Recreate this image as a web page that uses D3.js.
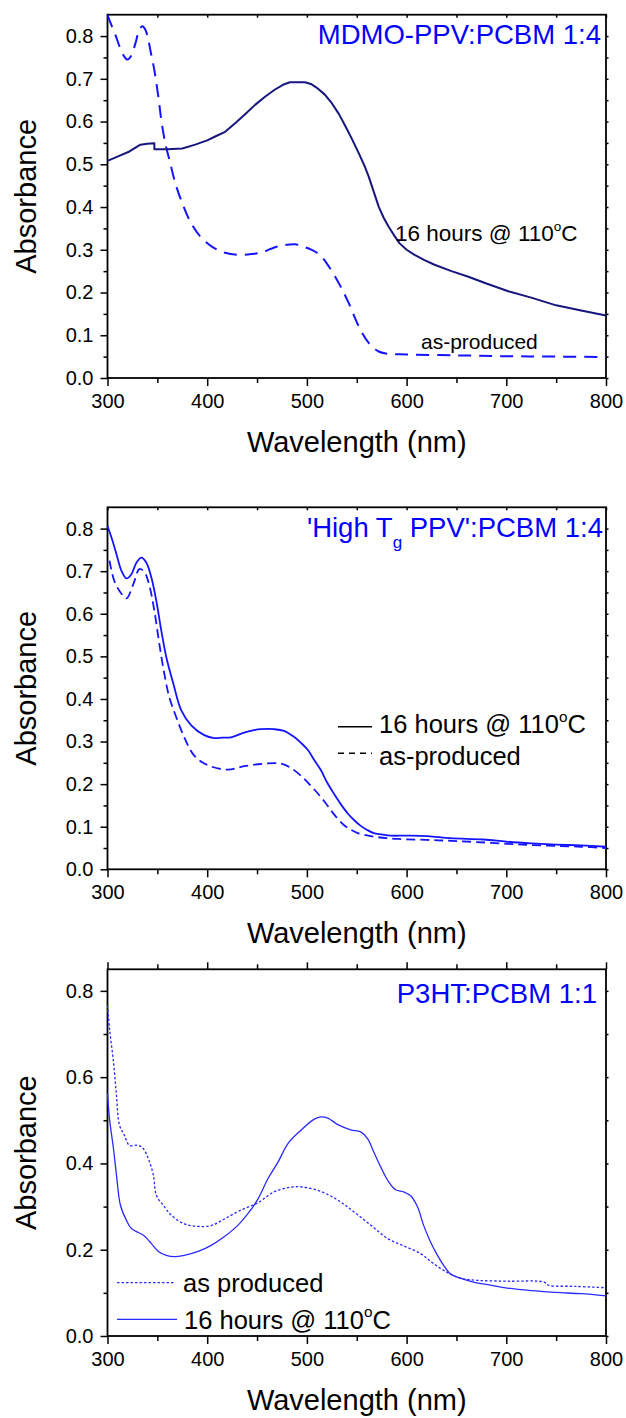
<!DOCTYPE html>
<html>
<head>
<meta charset="utf-8">
<script src="https://cdn.jsdelivr.net/npm/d3@7"></script>
<style>
  body { margin: 0; background: #fff; }
  text { font-family: "Liberation Sans", Arial, sans-serif; }
</style>
</head>
<body>
<div id="my_dataviz_absorbance"></div>
<script>
// x tick values (nm) and y tick values, shared by the three panels
const xTicksMajor = [300, 400, 500, 600, 700, 800]
const xTicksMinor = [350, 450, 550, 650, 750]
const yTicksTenths = [0, 0.1, 0.2, 0.3, 0.4, 0.5, 0.6, 0.7, 0.8]
const yTicksFifths = [0, 0.2, 0.4, 0.6, 0.8]

// panel 1 : MDMO-PPV:PCBM 1:4
const mdmo_wl_annealed = [300, 310, 322, 333, 340, 347, 347, 360, 375, 388, 400, 408, 418, 428, 438, 448, 458, 468, 476, 483, 490, 498, 504, 510, 518, 525, 532, 538, 545, 552, 558, 562, 567, 572, 577, 582, 588, 593, 600, 608, 618, 628, 645, 662, 680, 702, 725, 750, 775, 800]
const mdmo_abs_annealed = [0.508, 0.518, 0.530, 0.546, 0.548, 0.549, 0.535, 0.535, 0.537, 0.546, 0.556, 0.565, 0.576, 0.596, 0.617, 0.639, 0.658, 0.675, 0.686, 0.692, 0.692, 0.692, 0.688, 0.679, 0.663, 0.643, 0.618, 0.592, 0.560, 0.526, 0.495, 0.471, 0.436, 0.401, 0.375, 0.354, 0.332, 0.315, 0.300, 0.288, 0.276, 0.265, 0.250, 0.237, 0.221, 0.203, 0.188, 0.170, 0.158, 0.146]
const mdmo_wl_asprod = [300, 304, 308, 312, 316, 320, 324, 328, 332, 335, 338, 341, 344, 347, 351, 354, 358, 363, 368, 375, 383, 393, 405, 418, 432, 445, 455, 468, 478, 488, 498, 508, 515, 522, 532, 542, 552, 562, 572, 580, 600, 650, 700, 750, 800]
const mdmo_abs_asprod = [0.849, 0.825, 0.802, 0.776, 0.755, 0.745, 0.755, 0.783, 0.815, 0.823, 0.815, 0.790, 0.755, 0.720, 0.658, 0.603, 0.549, 0.502, 0.456, 0.409, 0.366, 0.331, 0.307, 0.293, 0.288, 0.290, 0.294, 0.306, 0.311, 0.313, 0.306, 0.296, 0.283, 0.261, 0.222, 0.175, 0.121, 0.082, 0.062, 0.057, 0.055, 0.053, 0.051, 0.050, 0.049]

// panel 2 : 'High Tg PPV':PCBM 1:4
const hightg_wl_annealed = [300, 304, 309, 314, 319, 324, 329, 334, 339, 344, 349, 354, 359, 366, 374, 384, 397, 407, 415, 424, 437, 447, 454, 467, 477, 487, 494, 501, 507, 514, 520, 527, 534, 541, 548, 554, 560, 567, 575, 584, 600, 621, 644, 677, 700, 725, 750, 775, 800]
const hightg_abs_annealed = [0.806, 0.779, 0.740, 0.701, 0.683, 0.693, 0.720, 0.732, 0.720, 0.685, 0.630, 0.560, 0.498, 0.436, 0.373, 0.338, 0.315, 0.308, 0.309, 0.310, 0.321, 0.327, 0.329, 0.329, 0.325, 0.311, 0.297, 0.280, 0.258, 0.233, 0.205, 0.178, 0.153, 0.131, 0.114, 0.102, 0.093, 0.085, 0.082, 0.079, 0.079, 0.078, 0.073, 0.070, 0.065, 0.061, 0.058, 0.056, 0.053]
const hightg_wl_asprod = [302, 307, 314, 319, 326, 332, 337, 342, 347, 352, 357, 362, 369, 377, 387, 401, 421, 437, 457, 474, 484, 497, 504, 511, 518, 524, 530, 537, 544, 551, 564, 580, 594, 620, 644, 670, 701, 725, 750, 775, 800]
const hightg_abs_asprod = [0.725, 0.676, 0.647, 0.636, 0.670, 0.705, 0.698, 0.666, 0.607, 0.529, 0.459, 0.404, 0.357, 0.310, 0.267, 0.244, 0.234, 0.242, 0.248, 0.248, 0.238, 0.213, 0.196, 0.178, 0.158, 0.139, 0.121, 0.104, 0.093, 0.085, 0.078, 0.073, 0.071, 0.069, 0.067, 0.064, 0.060, 0.057, 0.055, 0.053, 0.050]

// panel 3 : P3HT:PCBM 1:1
const p3ht_wl_annealed = [300, 302, 306, 309, 313, 319, 324, 331, 337, 344, 351, 359, 367, 377, 391, 404, 417, 431, 441, 451, 461, 471, 481, 494, 507, 514, 521, 531, 544, 554, 561, 567, 574, 581, 589, 597, 604, 611, 617, 624, 631, 637, 644, 654, 667, 684, 701, 725, 750, 775, 800]
const p3ht_abs_annealed = [0.562, 0.504, 0.434, 0.373, 0.303, 0.268, 0.249, 0.240, 0.232, 0.214, 0.196, 0.187, 0.184, 0.187, 0.196, 0.210, 0.230, 0.257, 0.284, 0.318, 0.365, 0.403, 0.446, 0.477, 0.502, 0.508, 0.505, 0.490, 0.478, 0.473, 0.457, 0.427, 0.392, 0.361, 0.339, 0.334, 0.325, 0.299, 0.257, 0.218, 0.187, 0.164, 0.144, 0.134, 0.125, 0.118, 0.111, 0.105, 0.101, 0.098, 0.093]
const p3ht_wl_asprod = [300, 302, 306, 309, 312, 317, 322, 331, 336, 341, 346, 349, 356, 364, 377, 391, 404, 417, 434, 451, 467, 484, 497, 514, 531, 547, 564, 581, 597, 614, 627, 641, 654, 671, 701, 738, 742, 770, 800]
const p3ht_abs_asprod = [0.767, 0.713, 0.635, 0.558, 0.489, 0.465, 0.442, 0.442, 0.434, 0.411, 0.373, 0.326, 0.303, 0.280, 0.260, 0.254, 0.256, 0.271, 0.292, 0.309, 0.334, 0.345, 0.345, 0.335, 0.315, 0.288, 0.257, 0.226, 0.209, 0.191, 0.168, 0.147, 0.134, 0.129, 0.127, 0.125, 0.118, 0.115, 0.112]

const svg = d3.select("#my_dataviz_absorbance")
  .append("svg")
    .attr("width", 626)
    .attr("height", 1418)

const toPoints = (wl, ab) => wl.map((w, i) => ({wl: w, value: ab[i]}))

// adds a "16 hours @ 110°C" style text with a superscript o
function degreeText(g, x, y, size, color) {
  const t = g.append("text")
    .attr("x", x)
    .attr("y", y)
    .attr("font-size", size)
    .attr("fill", color)
  t.append("tspan").text("16 hours @ 110")
  t.append("tspan").attr("font-size", size * 0.6).attr("dy", -size * 0.45).text("o")
  t.append("tspan").attr("dy", size * 0.45).text("C")
  return t
}

function drawPanel(cfg) {
  const left = 107.5, right = 606
  const g = svg.append("g")

  const x = d3.scaleLinear().domain([300, 800]).range([left, right])
  const y = d3.scaleLinear().domain([0, 0.85]).range([cfg.bottom, cfg.top])

  // bottom axis : major + minor ticks
  const bx = g.append("g").attr("transform", `translate(0, ${cfg.bottom})`)
    .call(d3.axisBottom(x).tickValues(xTicksMajor).tickSize(8).tickPadding(8).tickFormat(d3.format("d")))
  bx.append("g").call(d3.axisBottom(x).tickValues(xTicksMinor).tickSize(5).tickFormat(""))

  // left axis
  const majorY = cfg.yStep === 0.2 ? yTicksFifths : yTicksTenths
  const minorY = cfg.yStep === 0.2
    ? yTicksTenths.filter(v => !yTicksFifths.includes(v))
    : yTicksTenths.map(v => v + 0.05).filter(v => v < 0.85)
  const ly = g.append("g").attr("transform", `translate(${left}, 0)`)
    .call(d3.axisLeft(y).tickValues(majorY).tickSize(7).tickPadding(7).tickFormat(d3.format(".1f")))
  ly.append("g").call(d3.axisLeft(y).tickValues(minorY).tickSize(4).tickFormat(""))

  // top axis
  const allX = xTicksMajor.concat(xTicksMinor)
  if (cfg.topOut) {
    const tx = g.append("g").attr("transform", `translate(0, ${cfg.top})`)
      .call(d3.axisTop(x).tickValues(xTicksMajor).tickSize(7).tickFormat(""))
    tx.append("g").call(d3.axisTop(x).tickValues(xTicksMinor).tickSize(5).tickFormat(""))
  } else {
    g.append("g").attr("transform", `translate(0, ${cfg.top})`)
      .call(d3.axisTop(x).tickValues(allX).tickSize(-3).tickFormat(""))
  }

  // right axis, small stubs
  g.append("g").attr("transform", `translate(${right}, 0)`)
    .call(d3.axisRight(y).tickValues(majorY.concat(minorY)).tickSize(2.5).tickFormat(""))

  g.selectAll(".domain").remove()
  g.selectAll(".tick line").attr("stroke", "#000").attr("stroke-width", 1.5)
  g.selectAll(".tick text")
    .attr("font-family", "Liberation Sans, Arial, sans-serif")
    .attr("font-size", 20)
    .attr("fill", "#000")

  // frame
  g.append("rect")
    .attr("x", left)
    .attr("y", cfg.top)
    .attr("width", right - left)
    .attr("height", cfg.bottom - cfg.top)
    .attr("fill", "none")
    .attr("stroke", "#000")
    .attr("stroke-width", 1.8)

  // axis titles
  g.append("text")
    .attr("x", (left + right) / 2)
    .attr("y", cfg.bottom + 74)
    .attr("text-anchor", "middle")
    .attr("font-size", 29)
    .text("Wavelength (nm)")

  g.append("text")
    .attr("transform", `translate(36, ${(cfg.top + cfg.bottom) / 2}) rotate(-90)`)
    .attr("text-anchor", "middle")
    .attr("font-size", 29)
    .text("Absorbance")

  // the lines
  const smooth = d3.line()
    .x(d => x(d.wl))
    .y(d => y(d.value))
    .curve(d3.curveCatmullRom.alpha(0.5))
  const straight = d3.line()
    .x(d => x(d.wl))
    .y(d => y(d.value))

  g.selectAll("mySeries")
    .data(cfg.series)
    .join("path")
      .attr("d", d => (d.linear ? straight : smooth)(d.values))
      .attr("fill", "none")
      .attr("stroke", d => d.color)
      .attr("stroke-width", d => d.width)
      .attr("stroke-dasharray", d => d.dash)
      .attr("stroke-linejoin", "round")

  return {g, x, y}
}

// panel 1
const p1 = drawPanel({
  top: 14.7, bottom: 378, yStep: 0.1, topOut: false,
  series: [
    {values: toPoints(mdmo_wl_asprod, mdmo_abs_asprod), color: "#1414ff", width: 2, dash: "13,8"},
    {values: toPoints(mdmo_wl_annealed, mdmo_abs_annealed), color: "#16167e", width: 2, dash: null, linear: true}
  ]
})
p1.g.append("text")
  .attr("x", 601).attr("y", 43.5)
  .attr("text-anchor", "end")
  .attr("font-size", 27.5)
  .attr("fill", "#0000ff")
  .text("MDMO-PPV:PCBM 1:4")
degreeText(p1.g, 395, 240.7, 22.5, "#000")
p1.g.append("text")
  .attr("x", 421).attr("y", 349.3)
  .attr("font-size", 21)
  .text("as-produced")

// panel 2
const p2 = drawPanel({
  top: 507.3, bottom: 869.3, yStep: 0.1, topOut: false,
  series: [
    {values: toPoints(hightg_wl_asprod, hightg_abs_asprod), color: "#1414ff", width: 1.8, dash: "9,5"},
    {values: toPoints(hightg_wl_annealed, hightg_abs_annealed), color: "#1414ff", width: 1.8, dash: null}
  ]
})
const t2 = p2.g.append("text")
  .attr("x", 603).attr("y", 536.7)
  .attr("text-anchor", "end")
  .attr("font-size", 27.5)
  .attr("fill", "#0000ff")
t2.append("tspan").text("'High T")
t2.append("tspan").attr("font-size", 17).attr("dy", 11).text("g")
t2.append("tspan").attr("dy", -11).text(" PPV':PCBM 1:4")

p2.g.append("line").attr("x1", 338).attr("x2", 372).attr("y1", 726.7).attr("y2", 726.7)
  .attr("stroke", "#000").attr("stroke-width", 1.5)
p2.g.append("line").attr("x1", 338).attr("x2", 372).attr("y1", 753.3).attr("y2", 753.3)
  .attr("stroke", "#000").attr("stroke-width", 1.5).attr("stroke-dasharray", "6,5")
degreeText(p2.g, 379, 733.3, 25.5, "#000")
p2.g.append("text")
  .attr("x", 379).attr("y", 765)
  .attr("font-size", 25.5)
  .text("as-produced")

// panel 3
const p3 = drawPanel({
  top: 969.3, bottom: 1336, yStep: 0.2, topOut: true,
  series: [
    {values: toPoints(p3ht_wl_asprod, p3ht_abs_asprod), color: "#2a2aff", width: 1.3, dash: "2.5,2"},
    {values: toPoints(p3ht_wl_annealed, p3ht_abs_annealed), color: "#2a2aff", width: 1.3, dash: null}
  ]
})
p3.g.append("text")
  .attr("x", 597).attr("y", 1002.7)
  .attr("text-anchor", "end")
  .attr("font-size", 27.5)
  .attr("fill", "#0000ff")
  .text("P3HT:PCBM 1:1")

p3.g.append("line").attr("x1", 117).attr("x2", 175).attr("y1", 1282.7).attr("y2", 1282.7)
  .attr("stroke", "#2a2aff").attr("stroke-width", 1.3).attr("stroke-dasharray", "2.5,2")
p3.g.append("text")
  .attr("x", 183).attr("y", 1292)
  .attr("font-size", 25.5)
  .text("as produced")
p3.g.append("line").attr("x1", 117).attr("x2", 177).attr("y1", 1319.3).attr("y2", 1319.3)
  .attr("stroke", "#2a2aff").attr("stroke-width", 1.3)
degreeText(p3.g, 184, 1328.7, 25.5, "#000")
</script>
</body>
</html>
